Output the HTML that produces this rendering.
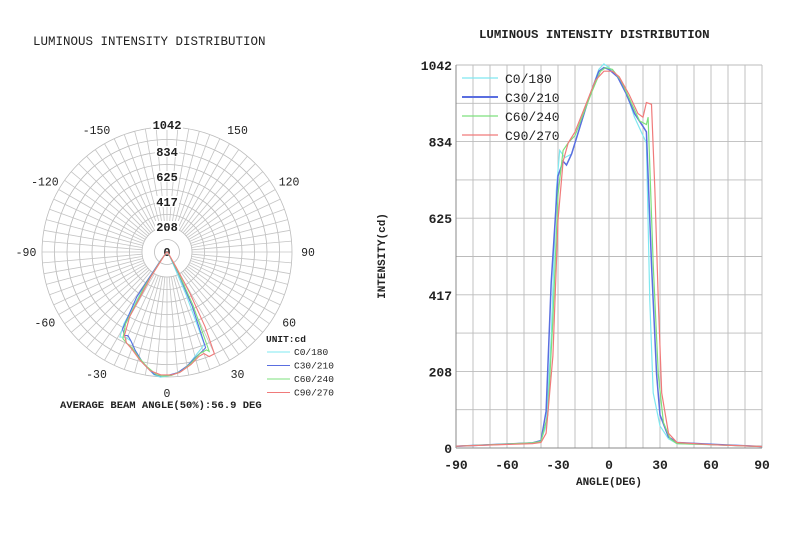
<!DOCTYPE html>
<html><head><meta charset="utf-8"><style>
body{margin:0;background:#fff;width:800px;height:541px;overflow:hidden}
svg{display:block}
text{font-family:"Liberation Mono",monospace;fill:#222}
</style></head><body>
<svg id="s" width="800" height="541" xmlns="http://www.w3.org/2000/svg">
<text x="33" y="45" font-size="12.5">LUMINOUS INTENSITY DISTRIBUTION</text>
<text x="479" y="38" font-size="12.4" font-weight="bold">LUMINOUS INTENSITY DISTRIBUTION</text>
<g id="polar"></g>
<g id="cart"></g>
</svg>
<script>
const NS="http://www.w3.org/2000/svg";
function el(p,t,a,txt){const e=document.createElementNS(NS,t);for(const k in a)e.setAttribute(k,a[k]);if(txt!==undefined)e.textContent=txt;p.appendChild(e);return e;}
const data={
c0:[[-90,5],[-45,14],[-40,20],[-37,60],[-34,300],[-31,700],[-29,810],[-26,790],[-22,800],[-18,860],[-12,950],[-6,1030],[-3,1045],[0,1035],[5,1010],[10,970],[15,900],[20,850],[22,830],[24,400],[26,150],[30,60],[35,25],[40,12],[60,9],[90,4]],
c30:[[-90,5],[-45,14],[-40,20],[-37,100],[-34,450],[-30,740],[-27,780],[-25,770],[-22,800],[-18,860],[-12,950],[-6,1025],[-3,1035],[0,1030],[5,1010],[10,965],[15,910],[20,875],[22,860],[25,500],[28,200],[30,90],[35,30],[40,15],[60,10],[90,4]],
c60:[[-90,5],[-45,14],[-40,18],[-36,90],[-33,350],[-30,690],[-27,810],[-24,830],[-20,850],[-15,910],[-10,970],[-5,1025],[-2,1035],[2,1030],[7,1000],[12,950],[18,890],[22,880],[23,900],[26,500],[29,200],[32,70],[36,25],[40,12],[60,9],[90,4]],
c90:[[-90,5],[-45,12],[-40,15],[-37,40],[-33,250],[-30,620],[-27,780],[-24,830],[-20,860],[-14,930],[-8,1000],[-3,1025],[2,1025],[6,1010],[12,960],[17,910],[20,900],[22,940],[25,935],[27,700],[29,400],[31,150],[35,40],[40,15],[60,9],[90,4]]};
const cols={c0:"#7fe8f0",c30:"#5a6ee0",c60:"#7de07d",c90:"#f07a7a"};
const names={c0:"C0/180",c30:"C30/210",c60:"C60/240",c90:"C90/270"};
const P=document.getElementById("polar"),cx=167,cy=252,k=125/1042;
for(let i=1;i<=10;i++)el(P,"circle",{cx,cy,r:12.5*i,fill:"none",stroke:"#bbb","stroke-width":0.8});
for(let a=0;a<360;a+=5){const t=a*Math.PI/180;el(P,"line",{x1:cx+25*Math.sin(t),y1:cy+25*Math.cos(t),x2:cx+125*Math.sin(t),y2:cy+125*Math.cos(t),stroke:"#c4c4c4","stroke-width":0.8});}
[["0",0],["208",25],["417",50],["625",75],["834",100],["1042",127]].forEach(([l,r])=>{el(P,"rect",{x:cx-(l.length*4),y:cy-r-6,width:l.length*8,height:11,fill:"#fff"});el(P,"text",{x:cx,y:cy-r+4,"text-anchor":"middle","font-size":12,"font-weight":"bold"},l);});
[-150,150,-120,120,-90,90,-60,60,-30,30,0].forEach(a=>{const t=a*Math.PI/180;el(P,"text",{x:cx+141*Math.sin(t),y:cy+141*Math.cos(t)+4,"text-anchor":"middle","font-size":11.5},String(a));});
for(const c in data){let d="M"+cx+","+cy;for(const [a,v] of data[c]){if(Math.abs(a)>60)continue;const t=a*Math.PI/180;d+=" L"+(cx+v*k*Math.sin(t)).toFixed(1)+","+(cy+v*k*Math.cos(t)).toFixed(1);}d+=" Z";el(P,"path",{d,fill:"none",stroke:cols[c],"stroke-width":1.1});}
el(P,"text",{x:266,y:342,"font-size":9.5,"font-weight":"bold"},"UNIT:cd");
Object.keys(cols).forEach((c,i)=>{const y=355+i*13.5;el(P,"line",{x1:267,y1:y-3,x2:290,y2:y-3,stroke:cols[c]});el(P,"text",{x:294,y,"font-size":9.5},names[c]);});
el(P,"text",{x:60,y:408,"font-size":10.5,"font-weight":"bold"},"AVERAGE BEAM ANGLE(50%):56.9 DEG");
const C=document.getElementById("cart"),x0=456,x1=762,y0=448,y1=65;
const X=a=>x0+(a+90)*(x1-x0)/180,Y=v=>y0-v*(y0-y1)/1042;
for(let a=-90;a<=90;a+=10)el(C,"line",{x1:X(a),y1:y1,x2:X(a),y2:y0,stroke:"#bbb","stroke-width":0.9});
for(let i=0;i<=10;i++){const y=y0-i*(y0-y1)/10;el(C,"line",{x1:x0,y1:y,x2:x1,y2:y,stroke:"#bbb","stroke-width":0.9});}
el(C,"line",{x1:x0,y1:y1,x2:x0,y2:y0,stroke:"#888"});el(C,"line",{x1:x0,y1:y0,x2:x1,y2:y0,stroke:"#888"});
[[0,"0"],[208.4,"208"],[416.8,"417"],[625.2,"625"],[833.6,"834"],[1042,"1042"]].forEach(([v,l])=>el(C,"text",{x:452,y:Y(v)+5,"text-anchor":"end","font-size":13,"font-weight":"bold"},l));
[-90,-60,-30,0,30,60,90].forEach(a=>el(C,"text",{x:X(a),y:469,"text-anchor":"middle","font-size":13,"font-weight":"bold"},String(a)));
el(C,"text",{x:609,y:485,"text-anchor":"middle","font-size":11,"font-weight":"bold"},"ANGLE(DEG)");
el(C,"text",{x:0,y:0,transform:"translate(385,256) rotate(-90)","text-anchor":"middle","font-size":11,"font-weight":"bold"},"INTENSITY(cd)");
for(const c in data){el(C,"path",{d:"M"+data[c].map(([a,v])=>X(a).toFixed(1)+","+Y(v).toFixed(1)).join(" L"),fill:"none",stroke:cols[c],"stroke-width":c=="c30"?1.5:1.2});}
Object.keys(cols).forEach((c,i)=>{const y=83+i*19;el(C,"line",{x1:462,y1:y-5,x2:498,y2:y-5,stroke:cols[c],"stroke-width":c=="c30"?2:1.2});el(C,"text",{x:505,y,"font-size":13},names[c]);});
</script>
</body></html>
